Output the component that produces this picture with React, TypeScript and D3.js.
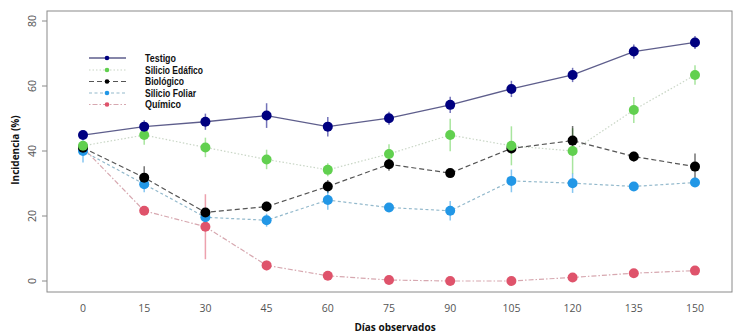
import React from "react";
import * as d3 from "d3";

const days = [0, 15, 30, 45, 60, 75, 90, 105, 120, 135, 150];
const yTicks = [0, 20, 40, 60, 80];

const testigo = [44.9, 47.5, 49.0, 50.9, 47.5, 50.1, 54.2, 59.1, 63.4, 70.6, 73.4];
const testigoErr = [1, 2, 2.5, 3.8, 3, 2, 2.5, 2.5, 2.2, 2.2, 2];
const edafico = [41.6, 44.9, 41.1, 37.4, 34.2, 39.1, 44.9, 41.6, 40.0, 52.6, 63.4];
const edaficoErr = [1.5, 3, 3, 3, 2, 3, 5, 6, 7, 4, 3];
const biologico = [41.0, 31.8, 21.1, 22.9, 29.1, 35.9, 33.2, 40.8, 43.2, 38.3, 35.2];
const biologicoErr = [1, 3.5, 1, 1.5, 2, 2, 1, 1.5, 4.5, 1.5, 4];
const foliar = [40.0, 29.8, 19.6, 18.7, 24.9, 22.6, 21.6, 30.8, 30.1, 29.1, 30.3];
const foliarErr = [3.5, 2.5, 1, 2, 3, 1, 3, 3.5, 3, 1, 1];
const quimico = [41.0, 21.6, 16.7, 4.8, 1.6, 0.3, 0.0, 0.0, 1.1, 2.4, 3.2];
const quimicoErr = [1, 1, 10, 1.5, 1, 0.5, 0.5, 0.5, 0.5, 0.5, 0.5];

const seriesNames = ["Testigo", "Silicio Edáfico", "Biológico", "Silicio Foliar", "Químico"];

const series = [
  { name: seriesNames[0], values: testigo, err: testigoErr, color: "#000080", line: "#5e5e8c", dash: "", lw: 1.3, tl: 31 },
  { name: seriesNames[1], values: edafico, err: edaficoErr, color: "#61D04F", line: "#c9d6c6", dash: "1.5 2", lw: 1.2, tl: 58 },
  { name: seriesNames[2], values: biologico, err: biologicoErr, color: "#000000", line: "#555555", dash: "5 3", lw: 1.2, tl: 39 },
  { name: seriesNames[3], values: foliar, err: foliarErr, color: "#2297E6", line: "#93b9cc", dash: "3 2.5", lw: 1.2, tl: 51 },
  { name: seriesNames[4], values: quimico, err: quimicoErr, color: "#DF536B", line: "#d7a8b0", dash: "1.5 2 5 2", lw: 1.2, tl: 36 },
];

export default function App() {
  const W = 737, H = 334;
  const x = d3.scaleLinear().domain([0, 150]).range([83, 695]);
  const y = d3.scaleLinear().domain([0, 80]).range([281, 21]);
  const box = { l: 47, t: 11, r: 732, b: 292 };
  const line = d3.line<number>().x((_, i) => x(days[i])).y((v) => y(v));
  const font = "'Open Sans', 'Liberation Sans', sans-serif";

  const legendY = [58, 70, 81.5, 93, 104.5];

  return (
    <svg width={W} height={H} style={{ position: "fixed", left: 0, top: 0, background: "#fff" }} fontFamily={font}>
      <rect x={0} y={0} width={W} height={H} fill="#fff" />
      <rect x={box.l} y={box.t} width={box.r - box.l} height={box.b - box.t} fill="none" stroke="#8a8a8a" strokeWidth={1} />
      {yTicks.map((t) => (
        <g key={t}>
          <line x1={box.l - 5} x2={box.l} y1={y(t)} y2={y(t)} stroke="#8a8a8a" />
          <text transform={`translate(${36},${y(t)}) rotate(-90)`} textAnchor="middle" fontSize={10.5} fill="#555">{t}</text>
        </g>
      ))}
      {days.map((d) => (
        <text key={d} x={x(d)} y={312} textAnchor="middle" fontSize={10.5} fill="#555">{d}</text>
      ))}
      <text x={395} y={331} textAnchor="middle" fontSize={10} fontWeight="bold" fill="#111">Días observados</text>
      <text transform={`translate(19,150) rotate(-90)`} textAnchor="middle" fontSize={10} fontWeight="bold" fill="#111">Incidencia (%)</text>

      {series.map((s) => (
        <path key={s.name + "l"} d={line(s.values) || ""} fill="none" stroke={s.line} strokeWidth={s.lw} strokeDasharray={s.dash} />
      ))}
      {series.map((s) => (
        <g key={s.name + "e"}>
          {s.values.map((v, i) => (
            <line key={i} x1={x(days[i])} x2={x(days[i])} y1={y(v - s.err[i])} y2={y(v + s.err[i])} stroke={s.color} strokeOpacity={0.55} strokeWidth={1.5} />
          ))}
        </g>
      ))}
      {[...series].reverse().map((s) => (
        <g key={s.name + "p"}>
          {s.values.map((v, i) => (
            <circle key={i} cx={x(days[i])} cy={y(v)} r={5} fill={s.color} />
          ))}
        </g>
      ))}

      {series.map((s, i) => (
        <g key={s.name + "leg"}>
          <line x1={89} x2={126} y1={legendY[i]} y2={legendY[i]} stroke={s.line} strokeWidth={s.lw} strokeDasharray={s.dash} />
          <circle cx={107} cy={legendY[i]} r={2.3} fill={s.color} />
          <text x={145} y={legendY[i] + 3.8} fontSize={10} fontFamily="'Liberation Sans', Arial, sans-serif" fontWeight="bold" fill="#111" textLength={s.tl} lengthAdjust="spacingAndGlyphs">{s.name}</text>
        </g>
      ))}
    </svg>
  );
}
